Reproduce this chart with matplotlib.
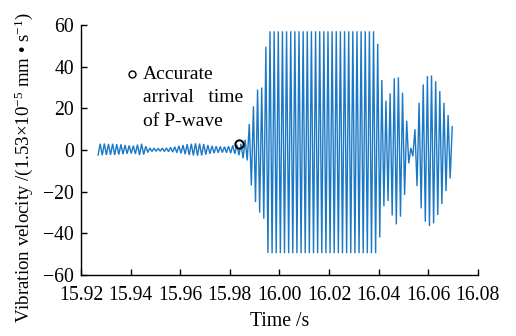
import numpy as np
import matplotlib
matplotlib.use("Agg")
import matplotlib.pyplot as plt

plt.rcParams['font.family'] = ['Liberation Serif', 'DejaVu Serif']
plt.rcParams['mathtext.fontset'] = 'custom'
plt.rcParams['mathtext.rm'] = 'Liberation Serif'
plt.rcParams['mathtext.it'] = 'Liberation Serif:italic'
plt.rcParams['axes.unicode_minus'] = True

# --- data ---
t_start = 15.9269      # s, first sample
t_step = 0.000835      # s, spacing between successive extremes

quiet_values = [
    -2.4, 3.0, -2.5, 3.1, -2.4, 2.9, -2.3, 3.0, -2.4, 2.8, -2.2, 2.7, -2.0, 2.4,
    -1.8, 2.2, -1.7, 2.1, -1.9, 2.6, -2.4, 3.0, -2.2, 1.8, -1.2, 1.0, -0.7, 0.9,
    -0.6, 0.8, -0.6, 0.9, -0.7, 1.0, -0.8, 1.3, -1.0, 1.6, -1.3, 2.0, -1.6, 2.4,
    -2.0, 2.8, -2.4, 3.0, -2.6, 3.2, -2.7, 3.1, -2.6, 2.9, -2.2, 2.4, -1.8, 2.0,
    -1.5, 1.8, -1.3, 1.7, -1.2, 1.6, -1.3, 1.8, -1.5, 2.2, -1.8, 2.6, -2.5,
]
rising_values = [3.0, -4.0, 5.0, -5.0, 12.5, -17.0, 21.0, -25.0, 29.0, -30.0,
                 30.0, -33.0, 49.6, -49.4]
clip_top = 57.0
clip_bottom = -49.5
clip_cycles = 26
tail_values = [
    51.0, -42.0, 33.6, -27.0, 23.7, -24.5, 27.2, -31.4, 34.4, -35.7,
    34.9, -32.0, 27.5, -21.6, 14.1, -6.4, 1.0, -3.0, 10.0, -17.3,
    22.7, -28.0, 31.5, -34.4, 35.5, -36.5, 35.8, -35.2, 33.0, -31.2,
    28.3, -26.0, 22.7, -19.7, 16.8, -13.6, 11.2,
]
arrival_time = 15.9837
arrival_value = 3.0
legend_marker = (15.9405, 36.5)

x_ticks = [15.92, 15.94, 15.96, 15.98, 16.00, 16.02, 16.04, 16.06, 16.08]
x_ticklabels = ['15.92', '15.94', '15.96', '15.98', '16.00', '16.02', '16.04', '16.06', '16.08']
y_ticks = [-60, -40, -20, 0, 20, 40, 60]

# --- assemble series ---
clip_values = [clip_top, clip_bottom] * clip_cycles
values = np.array(quiet_values + rising_values + clip_values + tail_values)
times = t_start + t_step * np.arange(len(values))

fig = plt.figure(figsize=(5.16, 3.36), dpi=100)
ax = fig.add_axes([0.157, 0.1815, 0.769, 0.744])

ax.plot(times, values, color='#1a78c6', lw=1.0, solid_joinstyle='miter')
ax.plot([arrival_time], [arrival_value], 'o', ms=6, mfc='none', mec='black', mew=1.4)
ax.plot([legend_marker[0]], [legend_marker[1]], 'o', ms=5, mfc='none', mec='black', mew=1.0)
ax.text(15.9448, 40.5, 'Accurate\narrival   time\nof P-wave',
        fontsize=14, va='top', ha='left', linespacing=1.52)

ax.set_xlim(15.92, 16.08)
ax.set_ylim(-60, 60)
ax.set_xticks(x_ticks)
ax.set_xticklabels(x_ticklabels)
ax.set_yticks(y_ticks)
for s in ['top', 'right']:
    ax.spines[s].set_visible(False)
for s in ['left', 'bottom']:
    ax.spines[s].set_linewidth(1.0)
ax.tick_params(direction='in', length=4, width=1.0, labelsize=14.2)
ax.tick_params(axis='x', pad=8)
ax.tick_params(axis='y', pad=5)
ax.set_xlabel('Time /s', fontsize=14.2, labelpad=5)
ax.set_ylabel('Vibration velocity /(1.53×10$^{-5}$ mm • s$^{-1}$)', fontsize=13.6)
ax.yaxis.set_label_coords(-0.115, 0.43)

fig.savefig('out.png', dpi=100)
